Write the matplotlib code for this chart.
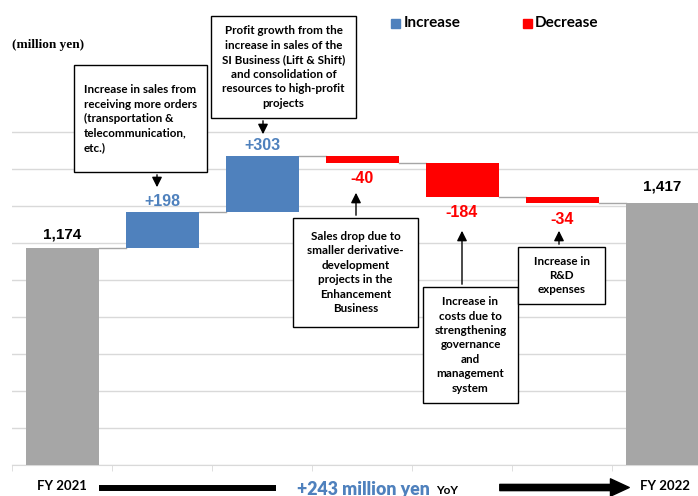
import matplotlib.pyplot as plt
from matplotlib.lines import Line2D
from matplotlib.patches import Rectangle, FancyArrowPatch

# data (million yen)
start_value = 1174
end_value = 1417
step_values = [198, 303, -40, -184, -34]
start_label = 'FY 2021'
end_label = 'FY 2022'
total_change = '+243 million yen'

box_texts = [
    'Increase in sales from\nreceiving more orders\n(transportation &\ntelecommunication,\netc.)',
    'Profit growth from the\nincrease in sales of the\nSI Business (Lift & Shift)\nand consolidation of\nresources to high-profit\nprojects',
    'Sales drop due to\nsmaller derivative-\ndevelopment\nprojects in the\nEnhancement\nBusiness',
    'Increase in\ncosts due to\nstrengthening\ngovernance\nand\nmanagement\nsystem',
    'Increase in\nR&D\nexpenses',
]

# layout of the callout boxes in pixels: (left, top, right, bottom, align)
box_layout = [
    (74, 65, 207, 172, 'left'),
    (211, 16, 356, 118, 'center'),
    (293, 218, 418, 327, 'center'),
    (423, 287, 518, 403, 'center'),
    (518, 247, 605, 304, 'center'),
]
# arrows: (x, y_from, y_to) in pixels
arrow_layout = [(157, 172, 190), (263, 118, 137), (356, 218, 190), (462, 287, 228), (559, 247, 228)]

BLUE = '#4f81bd'
RED = '#ff0000'
GRAY = '#a6a6a6'
BOX_FONT = 'Lato'

W, H = 698, 496
fig = plt.figure(figsize=(W / 100, H / 100), dpi=100)
ax = fig.add_axes([12 / W, 1 - 465 / H, 700 / W, 0.745])


def fp(x, y):
    return (x / W, 1 - y / H)


# running totals
n = len(step_values)
xs = list(range(n + 2))
bottoms, heights, colors = [0], [start_value], [GRAY]
level = start_value
levels = [start_value]
for v in step_values:
    if v >= 0:
        bottoms.append(level)
        colors.append(BLUE)
    else:
        bottoms.append(level + v)
        colors.append(RED)
    heights.append(abs(v))
    level += v
    levels.append(level)
bottoms.append(0)
heights.append(end_value)
colors.append(GRAY)

bw = 0.73
ax.bar(xs, heights, bottom=bottoms, width=bw, color=colors, zorder=3)

# connectors
for i, lv in enumerate(levels):
    ax.plot([i + bw / 2, i + 1 - bw / 2], [lv, lv], color=GRAY, lw=1, zorder=2)

# value labels
ax.annotate(f'{start_value:,}', (0, start_value), xytext=(0, 5), textcoords='offset points',
            ha='center', va='bottom', fontsize=11, fontweight='bold', family='Liberation Sans')
ax.annotate(f'{end_value:,}', (n + 1, end_value), xytext=(0, 7), textcoords='offset points',
            ha='center', va='bottom', fontsize=11, fontweight='bold', family='Liberation Sans')
for i, v in enumerate(step_values):
    x = i + 1
    if v >= 0:
        ax.annotate(f'+{v}', (x, bottoms[x] + heights[x]), xytext=(0, 2), textcoords='offset points',
                    ha='center', va='bottom', fontsize=11.5, fontweight='bold', color=BLUE,
                    family='Liberation Sans')
    else:
        ax.annotate(f'{v}', (x, bottoms[x]), xytext=(0, -6), textcoords='offset points',
                    ha='center', va='top', fontsize=11.5, fontweight='bold', color=RED,
                    family='Liberation Sans')

ax.set_xlim(-0.5, n + 1.5)
ax.set_ylim(0, 2000)
ax.set_yticks(range(0, 2000, 200))
ax.set_yticklabels([])
ax.tick_params(axis='y', length=0)
ax.grid(axis='y', color='#d9d9d9', lw=1, zorder=0)
ax.set_xticks([])
ax.set_xticks([i - 0.5 for i in range(n + 3)], minor=True)
ax.tick_params(axis='x', which='minor', length=4, color='#d9d9d9', direction='out')
for s in ['top', 'right', 'left']:
    ax.spines[s].set_visible(False)
ax.spines['bottom'].set_color('#d9d9d9')

# callout boxes
for txt, (l, t, r, b, al) in zip(box_texts, box_layout):
    x0, y0 = fp(l, b)
    x1, y1 = fp(r, t)
    fig.add_artist(Rectangle((x0, y0), x1 - x0, y1 - y0, transform=fig.transFigure,
                             facecolor='white', edgecolor='black', lw=1, zorder=5))
    tx = fp(l + 10, 0)[0] if al == 'left' else (x0 + x1) / 2
    fig.text(tx, (y0 + y1) / 2, txt, ha=al, va='center', multialignment=al,
             fontsize=8.4, fontweight='bold', family=BOX_FONT, linespacing=1.38, zorder=6)

for x, ya, yb in arrow_layout:
    fig.add_artist(FancyArrowPatch(fp(x, ya), fp(x, yb), transform=fig.transFigure,
                                   arrowstyle='-|>,head_length=0.5,head_width=0.25',
                                   mutation_scale=12, color='black', lw=1, zorder=6))

# legend
fig.add_artist(Rectangle(fp(391, 28), 9 / W, 9 / H, transform=fig.transFigure, color=BLUE))
fig.text(*fp(404, 23), 'Increase', va='center', fontsize=11, fontweight='bold', family=BOX_FONT)
fig.add_artist(Rectangle(fp(523, 28), 9 / W, 9 / H, transform=fig.transFigure, color=RED))
fig.text(*fp(535, 23), 'Decrease', va='center', fontsize=11, fontweight='bold', family=BOX_FONT)

fig.text(*fp(12, 45), '(million yen)', va='center', fontsize=9.5, fontweight='bold',
         family='Liberation Serif')

# bottom band
fig.text(*fp(62, 486), start_label, ha='center', va='center', fontsize=9.5, fontweight='bold',
         family=BOX_FONT)
fig.text(*fp(665, 486), end_label, ha='center', va='center', fontsize=9.5, fontweight='bold',
         family=BOX_FONT)
fig.add_artist(Line2D([99 / W, 276 / W], [1 - 487.5 / H] * 2, transform=fig.transFigure,
                      color='black', lw=4.3, solid_capstyle='butt'))
fig.add_artist(FancyArrowPatch(fp(497, 487.5), fp(632, 487.5), transform=fig.transFigure,
                               arrowstyle='simple,head_length=1.35,head_width=1.25,tail_width=0.45',
                               mutation_scale=10, color='black'))
fig.text(*fp(297, 489), total_change, va='center', fontsize=12.8, fontweight='heavy',
         color=BLUE, family=BOX_FONT)
fig.text(*fp(436, 491), 'YoY', va='center', fontsize=8.5, fontweight='bold', family=BOX_FONT)

fig.savefig('out.png', dpi=100)
